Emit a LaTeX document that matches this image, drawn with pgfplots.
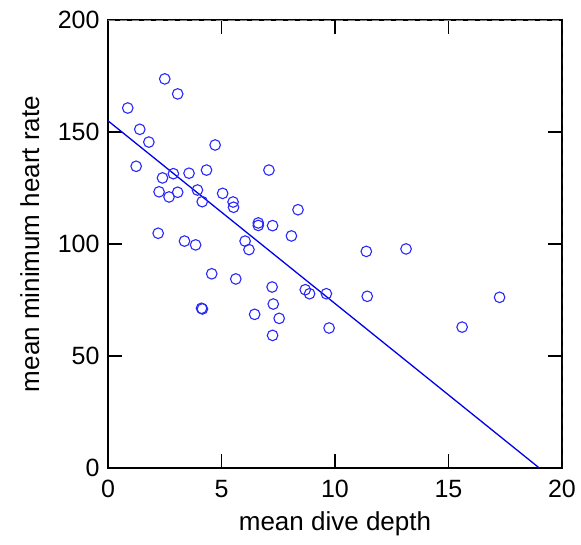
\documentclass[border=0pt]{standalone}
\usepackage{fontspec}
\setmainfont{Liberation Sans}
\usepackage{pgfplots}
\pgfplotsset{compat=1.18}

\definecolor{ptblue}{RGB}{40,40,250}
\definecolor{lnblue}{RGB}{0,0,235}

\begin{document}
\begin{tikzpicture}
\begin{axis}[
  scale only axis,
  width=454pt, height=448pt,
  xmin=0, xmax=20, ymin=0, ymax=200,
  xtick={0,5,10,15,20},
  ytick={0,50,100,150,200},
  tick align=inside,
  major tick length=14pt,
  tick style={black, line width=1.3pt},
  axis line style={black, line width=1.6pt},
  /pgf/number format/assume math mode=true,
  tick label style={font=\fontsize{25}{29}\selectfont},
  label style={font=\fontsize{26}{30}\selectfont},
  xticklabel style={yshift=-9pt},
  yticklabel style={xshift=-5pt},
  xlabel={mean dive depth},
  ylabel={mean minimum heart rate},
  xlabel style={at={(axis description cs:0.5,-0.125)}, anchor=center},
  ylabel style={at={(axis description cs:-0.172,0.5)}, anchor=center},
  clip=true,
]
  % least squares line
  \addplot[lnblue, line width=1.3pt] coordinates {(0,155) (19.0,0)};

  \addplot[only marks, mark=o, mark size=5.3pt, ptblue, mark options={line width=1.1pt}]
  coordinates {
    (0.87,160.7) (1.40,151.2) (1.24,134.7) (1.80,145.5) (2.50,173.7)
    (3.07,167.0) (2.21,104.8) (2.25,123.3) (2.40,129.5) (2.69,121.0)
    (2.88,131.4) (3.07,123.1) (3.57,131.6) (3.37,101.3) (3.86,99.6)
    (3.94,124.1) (4.15,118.9) (4.34,133.0) (4.72,144.2) (4.12,71.3)
    (4.16,71.0) (4.57,86.7) (5.05,122.6) (5.51,118.75) (5.53,116.4)
    (5.63,84.4) (6.04,101.3) (6.21,97.5) (6.46,68.6) (6.62,109.4)
    (6.62,108.3) (7.09,133.0) (7.25,108.2) (7.23,80.8) (7.28,73.2)
    (7.25,59.2) (7.54,66.8) (8.08,103.6) (8.37,115.3) (8.69,79.6)
    (8.88,77.8) (9.62,77.8) (9.74,62.5) (11.38,96.7) (11.42,76.65)
    (13.13,97.8) (15.60,62.9) (17.25,76.2)
  };

  % faint grey dashes over the top and right frame, as in the original
  \draw[gray, line width=0.5pt, dash pattern=on 7pt off 5pt]
    (rel axis cs:0,1) -- (rel axis cs:1,1) -- (rel axis cs:1,0);
  \coordinate (sw) at (rel axis cs:0,0);
\end{axis}
\pgfresetboundingbox
\path (sw) ++(-108pt,-76pt) rectangle ++(581pt,544pt);
\end{tikzpicture}
\end{document}
